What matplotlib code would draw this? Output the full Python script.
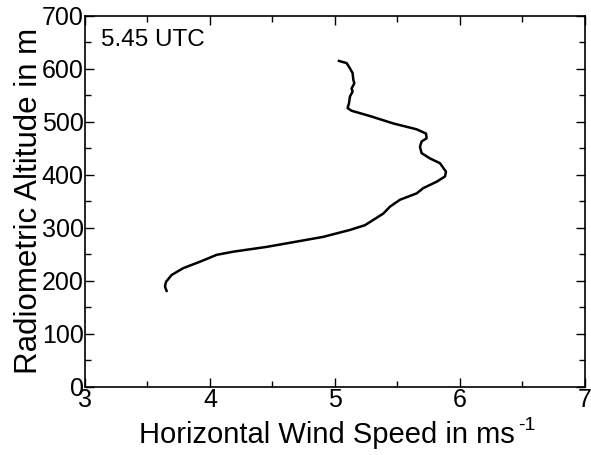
import matplotlib
matplotlib.use("Agg")
import matplotlib.pyplot as plt
from matplotlib.ticker import MultipleLocator

plt.rcParams['font.family'] = ['Liberation Sans', 'DejaVu Sans']

wind_speed = [3.653, 3.640, 3.648, 3.693, 3.787, 3.920, 4.053, 4.187, 4.453, 4.693,
              4.907, 5.120, 5.240, 5.307, 5.387, 5.440, 5.520, 5.653, 5.707, 5.813,
              5.880, 5.888, 5.840, 5.760, 5.693, 5.680, 5.693, 5.733, 5.728, 5.653,
              5.467, 5.280, 5.133, 5.101, 5.112, 5.120, 5.141, 5.133, 5.155, 5.147,
              5.141, 5.120, 5.093, 5.032]
altitude = [181, 189, 198, 211, 224, 236, 249, 255, 264, 274,
            283, 296, 305, 315, 327, 340, 353, 365, 375, 387,
            397, 406, 422, 431, 441, 453, 463, 469, 478, 486,
            497, 511, 521, 526, 535, 548, 557, 563, 573, 579,
            592, 601, 611, 615]

fig = plt.figure(figsize=(5.91, 4.55), dpi=100)
ax = fig.add_axes([0.1438, 0.150, 0.846, 0.815])
ax.plot(wind_speed, altitude, color='black', lw=1.8)
ax.set_xlim(3, 7)
ax.set_ylim(0, 700)
ax.xaxis.set_major_locator(MultipleLocator(1))
ax.xaxis.set_minor_locator(MultipleLocator(0.5))
ax.yaxis.set_major_locator(MultipleLocator(100))
ax.yaxis.set_minor_locator(MultipleLocator(50))
ax.tick_params(which='both', direction='in', top=True, right=True, labelsize=18, width=1)
ax.tick_params(which='major', length=6.5, pad=1)
ax.tick_params(which='minor', length=4)
for s in ax.spines.values():
    s.set_linewidth(1.2)
ax.text(0.484, -0.092, 'Horizontal Wind Speed in ms', transform=ax.transAxes,
        fontsize=21, ha='center', va='top')
xl = ax.texts[-1]
ax.annotate('-1', xy=(1, 1), xycoords=xl, xytext=(2, 3), textcoords='offset points',
            fontsize=14, ha='left', va='top')
ax.set_ylabel('Radiometric Altitude in m', fontsize=22.5, labelpad=-2)
ax.text(0.032, 0.965, '5.45 UTC', transform=ax.transAxes, fontsize=17.5, va='top', ha='left')
fig.savefig('out.png', dpi=100)
